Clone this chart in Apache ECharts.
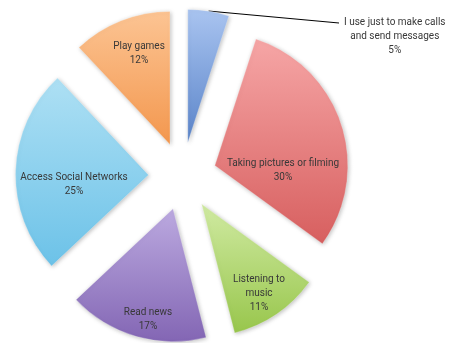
<!DOCTYPE html>
<html>
<head>
<meta charset="utf-8">
<script src="https://cdn.jsdelivr.net/npm/echarts@6/dist/echarts.min.js"></script>
<style>
html,body{margin:0;padding:0;background:#fff;}
#c{width:449px;height:343px;}
</style>
</head>
<body>
<div id="c"></div>
<script>
const categories = ['I use just to make calls\nand send messages', 'Taking pictures or filming', 'Listening to\nmusic', 'Read news', 'Access Social Networks', 'Play games'];
const values = [5, 30, 11, 17, 25, 12];
const colorTop = ['#a9c4f0', '#f6a6a6', '#d0eaa2', '#bcaae0', '#aee0f4', '#fcc493'];
const colorBottom = ['#5a84c9', '#d75f5f', '#98c64c', '#8366b4', '#6cc2e8', '#f3974e'];
// label anchor positions (layout styling)
const labelPos = [[344, 36], [283, 170], [259, 293], [148, 319], [74, 184], [139, 53]];

const CX = 182.5, CY = 176, R = 133, EXPLODE = 34;
const FONT = 'Roboto, "Liberation Sans", sans-serif';
const total = values.reduce((a, b) => a + b, 0);

const chart = echarts.init(document.getElementById('c'), null, {renderer: 'canvas'});

let acc = 0;
const series = values.map((v, i) => {
  const mid = (acc + v / 2) / total * Math.PI * 2;
  acc += v;
  const center = [CX + EXPLODE * Math.sin(mid), CY - EXPLODE * Math.cos(mid)];
  const data = categories.map((name, j) => {
    if (j !== i) {
      return {
        name: name, value: values[j],
        itemStyle: {color: 'rgba(0,0,0,0)', shadowBlur: 0, shadowColor: 'rgba(0,0,0,0)', borderWidth: 0},
        label: {show: false}, labelLine: {show: false}
      };
    }
    return {
      name: name, value: values[j],
      itemStyle: {
        color: new echarts.graphic.LinearGradient(0, 0, 0, 1, [
          {offset: 0, color: colorTop[j]},
          {offset: 1, color: colorBottom[j]}
        ])
      },
      label: {show: true, position: j === 0 ? 'outside' : 'inside'},
      labelLine: {show: j === 0, length: 1, length2: 100}
    };
  });
  return {
    type: 'pie',
    silent: true,
    center: center,
    radius: [0, R],
    startAngle: 90,
    clockwise: true,
    avoidLabelOverlap: false,
    emphasis: {disabled: true},
    itemStyle: {
      borderColor: 'rgba(255,255,255,0.5)',
      borderWidth: 0.5,
      shadowBlur: 4,
      shadowColor: 'rgba(0,0,0,0.25)',
      shadowOffsetX: 1,
      shadowOffsetY: 1
    },
    label: {
      formatter: function (p) {
        return p.name.split('\n').map(s => '{a|' + s + '}').join('\n') + '\n{a|' + p.value + '%}';
      },
      fontFamily: FONT,
      fontSize: 10,
      lineHeight: 14,
      color: '#383838',
      rich: {
        a: {align: 'center', fontFamily: FONT, fontSize: 10, lineHeight: 14, color: '#383838'}
      }
    },
    labelLine: {lineStyle: {color: '#000', width: 1}},
    labelLayout: function (p) {
      const pos = labelPos[p.dataIndex];
      const out = {x: pos[0], y: pos[1]};
      if (p.labelLinePoints && p.labelLinePoints.length) {
        out.labelLinePoints = [p.labelLinePoints[0], [pos[0] - 5, pos[1] - 13]];
      }
      return out;
    },
    data: data
  };
});

chart.setOption({
  backgroundColor: '#ffffff',
  animation: false,
  series: series
});
</script>
</body>
</html>
